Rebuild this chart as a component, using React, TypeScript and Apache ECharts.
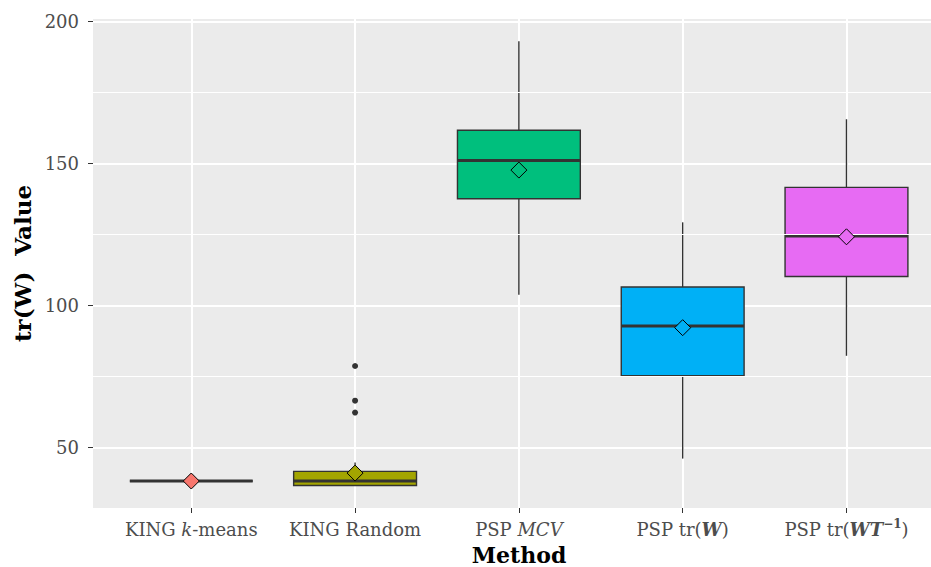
import React, { useEffect, useRef } from "react";
import * as echarts from "echarts";

// ---------- data ----------
const categories = ["KING k-means", "KING Random", "PSP MCV", "PSP tr(W)", "PSP tr(WT^-1)"];
const tickLabels = [
  "{n|KING }{i|k}{n|-means}",
  "{n|KING Random}",
  "{n|PSP }{i|MCV}",
  "{n|PSP tr(}{bi|W}{n|)}",
  "{n|PSP tr(}{bi|WT}{sup|−1}{n|)}",
];
const whiskerLow = [38.2, 36.6, 103.8, 46.1, 82.3];
const q1 = [38.2, 36.6, 137.6, 75.3, 110.2];
const median = [38.2, 38.2, 151.1, 92.8, 124.5];
const q3 = [38.2, 41.6, 161.7, 106.5, 141.6];
const whiskerHigh = [38.2, 44.7, 193.1, 129.3, 165.6];
const means = [38.2, 41.0, 147.7, 92.2, 124.2];
const outlierGroup = [1, 1, 1];
const outlierValues = [78.7, 66.5, 62.3];
const yMajorTicks = [50, 100, 150, 200];
const yMinorTicks = [75, 125, 175];
const colors = ["#F8766D", "#A3A500", "#00BF7D", "#00B0F6", "#E76BF3"];

const FONT = "DejaVu Serif";
const HALF = 0.375;

export default function App() {
  const ref = useRef<HTMLDivElement>(null);

  useEffect(() => {
    if (!ref.current) return;
    const chart = echarts.init(ref.current, undefined, { renderer: "svg" });

    const boxData = categories.map((_, i) => [i, whiskerLow[i], q1[i], median[i], q3[i], whiskerHigh[i]]);
    const meanData = means.map((m, i) => ({
      value: [i, m],
      itemStyle: { color: colors[i] },
    }));
    const outlierData = outlierValues.map((v, i) => [outlierGroup[i], v]);
    const xTicks = categories.map((_, i) => i);

    const renderBox = (params: any, api: any) => {
      const x = api.value(0);
      const lo = api.value(1);
      const b1 = api.value(2);
      const md = api.value(3);
      const b3 = api.value(4);
      const hi = api.value(5);
      const idx = params.dataIndex;
      const tl = api.coord([x - HALF, b3]);
      const br = api.coord([x + HALF, b1]);
      const mL = api.coord([x - HALF, md]);
      const mR = api.coord([x + HALF, md]);
      const pHi = api.coord([x, hi]);
      const pLo = api.coord([x, lo]);
      const pQ3 = api.coord([x, b3]);
      const pQ1 = api.coord([x, b1]);
      const stroke = { stroke: "#333333", lineWidth: 1.4 };
      return {
        type: "group",
        children: [
          { type: "line", shape: { x1: pHi[0], y1: pHi[1], x2: pQ3[0], y2: pQ3[1] }, style: stroke },
          { type: "line", shape: { x1: pQ1[0], y1: pQ1[1], x2: pLo[0], y2: pLo[1] }, style: stroke },
          {
            type: "rect",
            shape: { x: tl[0], y: tl[1], width: br[0] - tl[0], height: br[1] - tl[1] },
            style: { fill: colors[idx], stroke: "#333333", lineWidth: 1.4 },
          },
          {
            type: "line",
            shape: { x1: mL[0], y1: mL[1], x2: mR[0], y2: mR[1] },
            style: { stroke: "#333333", lineWidth: 3 },
          },
        ],
      };
    };

    const labelColor = "#4D4D4D";
    const rich = {
      n: { fontFamily: FONT, fontSize: 18, color: labelColor, lineHeight: 22 },
      i: { fontFamily: FONT, fontSize: 18, color: labelColor, fontStyle: "italic", lineHeight: 22 },
      bi: { fontFamily: FONT, fontSize: 18, color: labelColor, fontStyle: "italic", fontWeight: "bold", lineHeight: 22 },
      sup: { fontFamily: FONT, fontSize: 12, color: labelColor, fontWeight: "bold", lineHeight: 12, verticalAlign: "top" },
    };

    chart.setOption({
      animation: false,
      grid: {
        left: 93,
        right: 0,
        top: 19,
        bottom: 59,
        show: true,
        backgroundColor: "#EBEBEB",
        borderWidth: 0,
        containLabel: false,
        outerBoundsMode: "none",
      },
      xAxis: {
        type: "value",
        min: -0.6,
        max: 4.516,
        axisLine: { show: false, onZero: false },
        axisTick: { show: true, customValues: xTicks, length: 5, lineStyle: { color: "#333333", width: 1 } },
        axisLabel: {
          customValues: xTicks,
          margin: 10,
          formatter: (v: number) => tickLabels[Math.round(v)] ?? "",
          rich,
        },
        splitLine: { show: true, lineStyle: { color: "#FFFFFF", width: 2 } },
        name: "Method",
        nameLocation: "middle",
        nameGap: 38,
        nameTextStyle: {
          fontFamily: FONT,
          fontSize: 22,
          fontWeight: "bold",
          color: "#000000",
          lineHeight: 18,
          padding: [0, 0, 0, 14],
        },
      },
      yAxis: {
        type: "value",
        min: 28.7,
        max: 200.9,
        axisLine: { show: false, onZero: false },
        axisTick: { show: true, customValues: yMajorTicks, length: 5, lineStyle: { color: "#333333", width: 1 } },
        axisLabel: {
          customValues: yMajorTicks,
          margin: 14,
          fontFamily: FONT,
          fontSize: 18,
          color: labelColor,
        },
        splitLine: { show: true, lineStyle: { color: "#FFFFFF", width: 2 } },
        name: "tr(W)  Value",
        nameLocation: "middle",
        nameRotate: 90,
        nameGap: 56,
        nameTextStyle: {
          fontFamily: FONT,
          fontSize: 23,
          fontWeight: "bold",
          color: "#000000",
        },
      },
      series: [
        {
          type: "custom",
          name: "minor",
          data: [],
          renderItem: () => null,
          markLine: {
            silent: true,
            symbol: "none",
            label: { show: false },
            lineStyle: { color: "#FFFFFF", width: 1, type: "solid" },
            data: yMinorTicks.map((v) => ({ yAxis: v })),
          },
          z: 1,
        },
        {
          type: "custom",
          name: "boxes",
          data: boxData,
          encode: { x: 0, y: [1, 2, 3, 4, 5] },
          renderItem: renderBox,
          z: 3,
        },
        {
          type: "scatter",
          name: "outliers",
          data: outlierData,
          symbol: "circle",
          symbolSize: 6,
          itemStyle: { color: "#333333", opacity: 1 },
          z: 4,
        },
        {
          type: "scatter",
          name: "means",
          data: meanData,
          symbol: "diamond",
          symbolSize: [16, 16],
          itemStyle: { borderColor: "#000000", borderWidth: 1, opacity: 1 },
          z: 5,
        },
      ],
    });

    return () => chart.dispose();
  }, []);

  return (
    <div
      ref={ref}
      style={{ position: "fixed", left: 0, top: 0, width: 931, height: 567, background: "#FFFFFF" }}
    />
  );
}
